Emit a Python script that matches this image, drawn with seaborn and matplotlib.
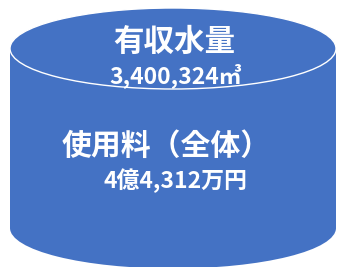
import matplotlib
matplotlib.use("Agg")
import matplotlib.pyplot as plt
from matplotlib.patches import Ellipse, Rectangle
import seaborn as sns

# Content
labels = ["有収水量", "使用料（全体）"]
values = ["3,400,324㎥", "4億4,312万円"]

sns.set_theme(style="white")
plt.rcParams['font.family'] = ['Noto Sans CJK JP', 'DejaVu Sans']

BLUE = "#4472C4"
fig = plt.figure(figsize=(3.38, 2.67), dpi=100)
ax = fig.add_axes([0, 0, 1, 1])
ax.set_xlim(0, 338)
ax.set_ylim(267, 0)
ax.axis("off")

cx, w, h = 173, 326, 81
top_y, bot_y = 48.5, 228
ax.add_patch(Ellipse((cx, bot_y), w, h, facecolor=BLUE, edgecolor="none"))
ax.add_patch(Rectangle((cx - w / 2, top_y), w, bot_y - top_y, facecolor=BLUE, edgecolor="none"))
ax.add_patch(Ellipse((cx, top_y), w, h, facecolor=BLUE, edgecolor="white", lw=1.0))

ax.text(174, 42, labels[0], color="white", fontsize=22, fontweight="bold", ha="center", va="center")
ax.text(176, 76, values[0], color="white", fontsize=16.5, fontweight="bold", ha="center", va="center")
ax.text(166, 146, labels[1], color="white", fontsize=21.5, fontweight="bold", ha="center", va="center")
ax.text(175, 181, values[1], color="white", fontsize=16.5, fontweight="bold", ha="center", va="center")

fig.savefig("out.png", dpi=100, facecolor="white")
